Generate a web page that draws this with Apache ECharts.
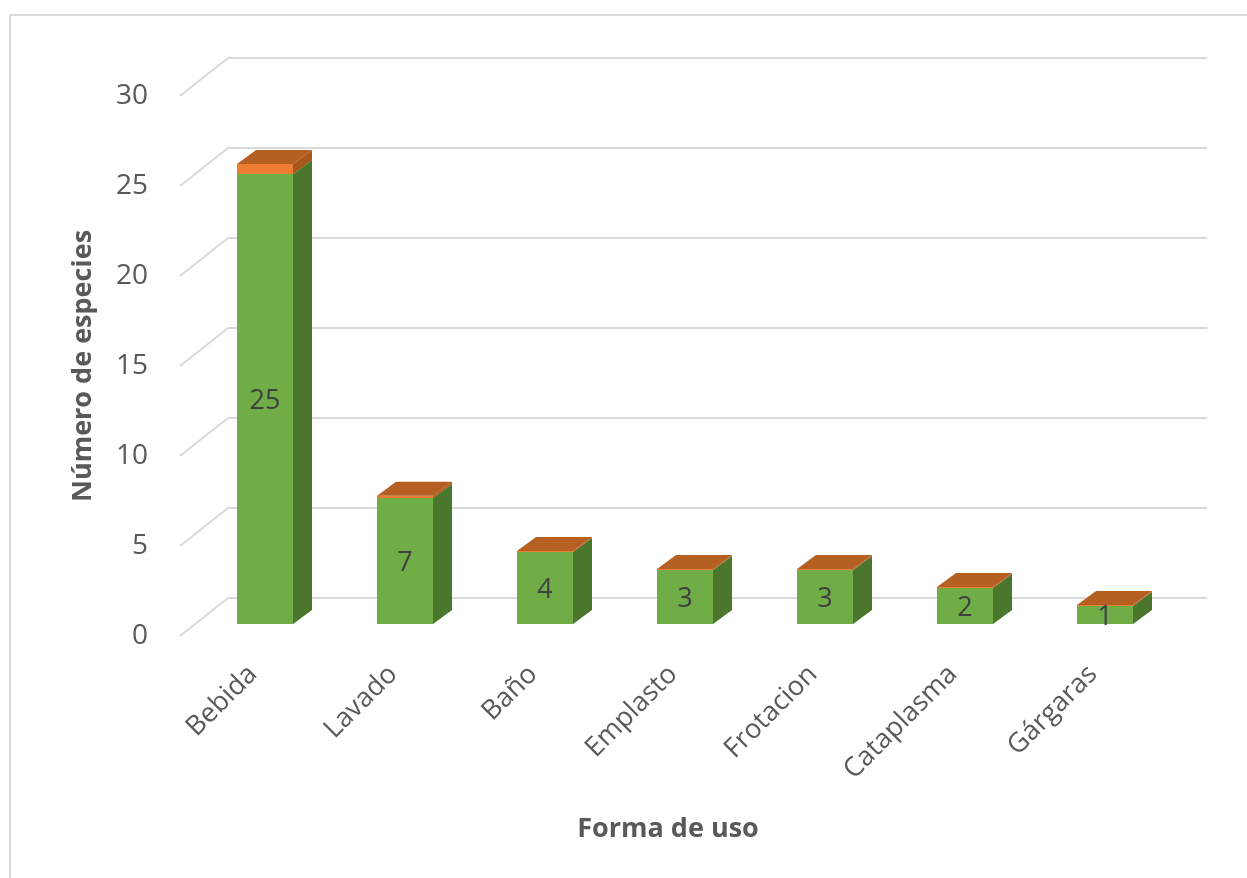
<!DOCTYPE html>
<html>
<head>
<meta charset="utf-8">
<script src="https://cdn.jsdelivr.net/npm/echarts@6/dist/echarts.min.js"></script>
<style>
html,body{margin:0;padding:0;background:#fff;}
#chart{width:1247px;height:878px;}
</style>
</head>
<body>
<div id="chart"></div>
<script>
const categories = ['Bebida', 'Lavado', 'Baño', 'Emplasto', 'Frotacion', 'Cataplasma', 'Gárgaras'];
const especies = [25, 7, 4, 3, 3, 2, 1];
const serie2 = [0.55, 0.12, 0.06, 0.05, 0.05, 0.05, 0.05];
const yTicks = [0, 5, 10, 15, 20, 25, 30];

const FONT = '"Open Sans", "Noto Sans", sans-serif';
const DX = 19, DY = -14;

const chart = echarts.init(document.getElementById('chart'), null, {renderer: 'canvas'});

const barData = categories.map((c, i) => [i, especies[i], serie2[i]]);

function renderBar(params, api) {
  const i = api.value(0), g = api.value(1), o = api.value(2);
  const base = api.coord([i, 0]);
  const pg = api.coord([i, g]);
  const pt = api.coord([i, g + o]);
  const w = api.size([1, 0])[0] * 0.4;
  const x0 = base[0] - w / 2, x1 = x0 + w;
  const by = base[1], gy = pg[1], ty = pt[1];
  return {
    type: 'group',
    children: [
      {type: 'polygon', shape: {points: [[x1, by], [x1 + DX, by + DY], [x1 + DX, gy + DY], [x1, gy]]}, style: {fill: '#4A772C'}},
      {type: 'polygon', shape: {points: [[x1, gy], [x1 + DX, gy + DY], [x1 + DX, ty + DY], [x1, ty]]}, style: {fill: '#A9561D'}},
      {type: 'rect', shape: {x: x0, y: gy, width: w, height: by - gy}, style: {fill: '#70AD47'}},
      {type: 'rect', shape: {x: x0, y: ty, width: w, height: gy - ty}, style: {fill: '#ED7D31'}},
      {type: 'polygon', shape: {points: [[x0, ty], [x0 + DX, ty + DY], [x1 + DX, ty + DY], [x1, ty]]}, style: {fill: '#B65F22'}},
      {type: 'text', style: {x: base[0], y: (by + gy) / 2 + 2, text: String(g), fill: '#404040', font: '27px ' + FONT, align: 'center', verticalAlign: 'middle'}}
    ]
  };
}

function renderSide(params, api) {
  const v = api.value(0);
  const p = api.coord([0, v]);
  return {
    type: 'line',
    shape: {x1: p[0], y1: p[1], x2: p[0] - 48, y2: p[1] + 38},
    style: {stroke: '#D9D9D9', lineWidth: 2}
  };
}

const option = {
  backgroundColor: '#ffffff',
  animation: false,
  graphic: [
    {type: 'line', shape: {x1: 10, y1: 15, x2: 1247, y2: 15}, style: {stroke: '#D9D9D9', lineWidth: 2}},
    {type: 'line', shape: {x1: 10, y1: 15, x2: 10, y2: 878}, style: {stroke: '#D9D9D9', lineWidth: 2}}
  ],
  grid: [
    {left: 195, right: 72, top: 84, bottom: 254},   // bar front plane
    {left: 228, right: 40, top: 58, bottom: 280},   // back wall
    {left: 180, right: 40, top: 96, bottom: 242},   // y labels
    {left: 183, right: 84, top: 84, bottom: 254}    // x labels
  ],
  xAxis: [
    {gridIndex: 0, type: 'category', data: categories, show: false},
    {gridIndex: 1, type: 'value', min: 0, max: 1, show: false},
    {gridIndex: 2, type: 'category', data: categories, show: false},
    {gridIndex: 3, type: 'category', data: categories,
      axisLine: {show: false}, axisTick: {show: false}, splitLine: {show: false},
      axisLabel: {rotate: 45, margin: 46, color: '#595959', fontSize: 27, fontFamily: FONT, interval: 0},
      name: 'Forma de uso', nameLocation: 'middle', nameGap: 192,
      nameTextStyle: {color: '#595959', fontSize: 27, fontWeight: 'bold', fontFamily: FONT, padding: [0, 10, 0, 0]}}
  ],
  yAxis: [
    {gridIndex: 0, type: 'value', min: 0, max: 30, interval: 5, show: false},
    {gridIndex: 1, type: 'value', min: 0, max: 30, interval: 5,
      axisLine: {show: false}, axisTick: {show: false}, axisLabel: {show: false},
      splitLine: {show: true, lineStyle: {color: '#D9D9D9', width: 2}}},
    {gridIndex: 2, type: 'value', min: 0, max: 30, interval: 5,
      axisLine: {show: false}, axisTick: {show: false}, splitLine: {show: false},
      axisLabel: {margin: 32, color: '#595959', fontSize: 28, fontFamily: FONT},
      name: 'Número de especies', nameLocation: 'middle', nameGap: 83,
      nameTextStyle: {color: '#595959', fontSize: 27, fontWeight: 'bold', fontFamily: FONT}},
    {gridIndex: 3, type: 'value', min: 0, max: 30, interval: 5, show: false}
  ],
  series: [
    {type: 'custom', xAxisIndex: 1, yAxisIndex: 1, data: yTicks.map(v => [v]), renderItem: renderSide, z: 1, silent: true},
    {type: 'custom', xAxisIndex: 0, yAxisIndex: 0, data: barData, renderItem: renderBar, z: 5,
      encode: {x: 0, y: 1}}
  ]
};
chart.setOption(option);
</script>
</body>
</html>
